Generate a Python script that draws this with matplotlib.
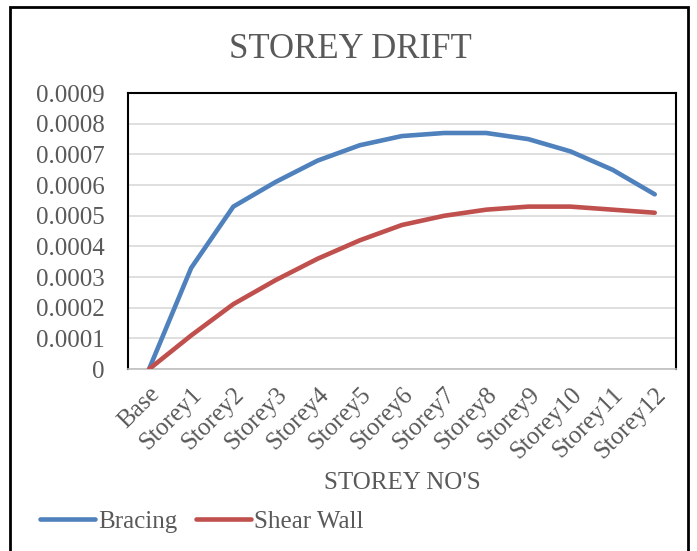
import matplotlib.pyplot as plt
from matplotlib.patches import Rectangle

# data
storeys = ["Base", "Storey1", "Storey2", "Storey3", "Storey4", "Storey5", "Storey6",
           "Storey7", "Storey8", "Storey9", "Storey10", "Storey11", "Storey12"]
bracing = [0, 0.00033, 0.00053, 0.00061, 0.00068, 0.00073, 0.00076,
           0.00077, 0.00077, 0.00075, 0.00071, 0.00065, 0.00057]
shear_wall = [0, 0.00011, 0.000212, 0.00029, 0.00036, 0.00042, 0.00047,
              0.00050, 0.00052, 0.00053, 0.00053, 0.00052, 0.00051]
yticks = [0, 0.0001, 0.0002, 0.0003, 0.0004, 0.0005, 0.0006, 0.0007, 0.0008, 0.0009]
ytick_labels = ["0", "0.0001", "0.0002", "0.0003", "0.0004", "0.0005",
                "0.0006", "0.0007", "0.0008", "0.0009"]

plt.rcParams['font.family'] = ['Liberation Serif', 'DejaVu Serif']
txt = '#595959'

fig = plt.figure(figsize=(6.97, 5.51), dpi=100)
ax = fig.add_axes([0.1836, 0.330, 0.786, 0.501])

x = list(range(len(storeys)))
ln1, = ax.plot(x, bracing, color='#4F81BD', lw=3.3, solid_capstyle='round', zorder=3)
ln2, = ax.plot(x, shear_wall, color='#C0504D', lw=3.3, solid_capstyle='round', zorder=3)

ax.set_xlim(-0.5, len(storeys) - 0.5)
ax.set_ylim(0, 0.0009)
ax.set_yticks(yticks)
ax.set_yticklabels(ytick_labels)
ax.set_xticks(x)
ax.set_xticklabels(storeys, rotation=45, ha='right', rotation_mode='anchor')
ax.tick_params(axis='both', length=0, colors=txt)
ax.tick_params(axis='y', pad=17, labelsize=18)
ax.tick_params(axis='x', pad=10, labelsize=18)

ax.grid(axis='y', color='#D9D9D9', lw=1.2, zorder=0)
ax.set_axisbelow(True)
for s in ['top', 'left', 'right']:
    ax.spines[s].set_color('black')
    ax.spines[s].set_linewidth(1.5)
ax.spines['bottom'].set_color('#BFBFBF')
ax.spines['bottom'].set_linewidth(1.2)

ax.set_xlabel("STOREY NO'S", fontsize=18, color=txt, labelpad=7)
fig.text(0.503, 0.91, "STOREY DRIFT", fontsize=25, color=txt, ha='center', va='center')

fig.legend([ln1, ln2], ["Bracing", "Shear Wall"], loc='center left',
           bbox_to_anchor=(0.025, 0.053), ncol=2, frameon=False, fontsize=18,
           labelcolor=txt, handlelength=2.2, handletextpad=0.12, columnspacing=0.75)

# outer chart border
fig.patches.append(Rectangle((10 / 697, -0.05), 678 / 697, 1.037, transform=fig.transFigure,
                             fill=False, edgecolor='black', lw=2))

plt.savefig('out.png', dpi=100)
